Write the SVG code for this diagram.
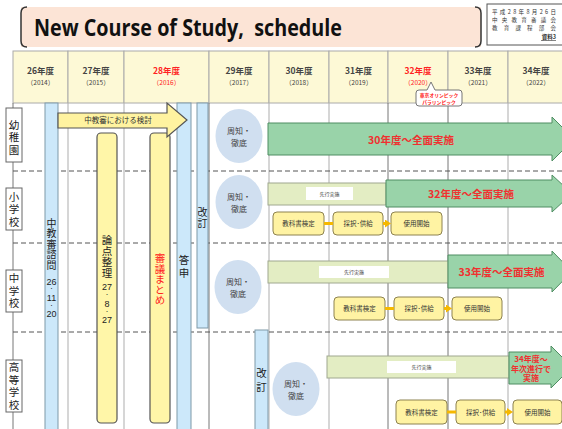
<svg xmlns="http://www.w3.org/2000/svg" width="562" height="429" viewBox="0 0 562 429">
<style>
text{font-family:"Noto Sans CJK JP","Noto Sans",sans-serif;fill:#333;text-anchor:middle}
.v{writing-mode:vertical-rl;text-anchor:start;font-size:10.5px;fill:#222}
.hdr{fill:#fdf9d6;stroke:#aaa;stroke-width:1}
.yr{font-size:8.5px;font-weight:bold;fill:#444}
.yp{font-size:6.5px;fill:#444}
.red{fill:#f22}
.grid{stroke:#bbb;stroke-width:1.2}
.gridd{stroke:#777;stroke-width:1}
.dash{stroke:#555;stroke-width:1;stroke-dasharray:5 3}
.lbl{fill:#fff;stroke:#666;stroke-width:1}
.blue{fill:#cce8fa;stroke:#7f99a8;stroke-width:1}
.ybar{fill:#fff6a8;stroke:#555;stroke-width:1.2}
.dg{font-family:"Liberation Sans",Arial,sans-serif;font-size:9px;fill:#222}
.dt{font-size:4px;fill:#222;font-weight:bold}
.ell{fill:#d0dff0}
.et{font-size:8px;fill:#444}
.green{fill:#99d3a9;stroke:#4f8d62;stroke-width:1}
.gt{font-size:10.5px;font-weight:bold;fill:#f03030}
.pre{fill:#e3edc3;stroke:#a0a890;stroke-width:1}
.wl{fill:#fff}
.pt{font-size:5px;fill:#333}
.ybox{fill:#fff3a3;stroke:#8d8250;stroke-width:1}
.bt{font-size:6.5px;fill:#333}
.conn{stroke:#f5b800;stroke-width:3;fill:none}
.tr{font-size:5.5px;fill:#333;text-anchor:start}
</style>
<defs>
<marker id="ah" viewBox="0 0 6 8" refX="0" refY="4" markerWidth="6" markerHeight="8" markerUnits="userSpaceOnUse" orient="auto"><path d="M0,0 L6,4 L0,8Z" fill="#f5b800"/></marker>
</defs>
<rect width="562" height="429" fill="#fff"/>

<g id="title">
<rect x="21" y="7" width="460" height="40" fill="#fce4d6"/>
<path d="M27,7 Q21,7 21,13 L21,41 Q21,47 27,47" fill="none" stroke="#333" stroke-width="1.5"/>
<path d="M475,7 Q481,7 481,13 L481,41 Q481,47 475,47" fill="none" stroke="#333" stroke-width="1.5"/>
<text x="34" y="36" style="font-family:'Open Sans','Liberation Sans',sans-serif;font-weight:bold;font-size:23px;text-anchor:start;fill:#111;white-space:pre" textLength="308" lengthAdjust="spacingAndGlyphs">New Course of Study,  schedule</text>
</g>

<g id="docinfo">
<rect x="487" y="4" width="80" height="41" fill="#fff" stroke="#555" stroke-width="1"/>
<text class="tr" x="492" y="14" textLength="64">平成28年8月26日</text>
<text class="tr" x="492" y="22" textLength="64">中央教育審議会</text>
<text class="tr" x="492" y="30" textLength="64">教育課程部会</text>
<text class="tr" x="556" y="39" style="text-anchor:end;font-weight:bold">資料3</text>
<line x1="541" y1="40.5" x2="556" y2="40.5" stroke="#333" stroke-width="0.6"/>
</g>

<g id="header">
<rect class="hdr" x="13" y="51" width="55" height="52"/>
<rect class="hdr" x="68" y="51" width="56" height="52"/>
<rect class="hdr" x="124" y="51" width="85" height="52"/>
<rect class="hdr" x="209" y="51" width="60" height="52"/>
<rect class="hdr" x="269" y="51" width="60" height="52"/>
<rect class="hdr" x="329" y="51" width="59" height="52"/>
<rect class="hdr" x="388" y="51" width="60" height="52"/>
<rect class="hdr" x="448" y="51" width="60" height="52"/>
<rect class="hdr" x="508" y="51" width="60" height="52"/>
<text class="yr" x="40.5" y="74">26年度</text><text class="yp" x="40.5" y="84.5">（2014）</text>
<text class="yr" x="96" y="74">27年度</text><text class="yp" x="96" y="84.5">（2015）</text>
<text class="yr red" x="166.5" y="74">28年度</text><text class="yp red" x="166.5" y="84.5">（2016）</text>
<text class="yr" x="239" y="74">29年度</text><text class="yp" x="239" y="84.5">（2017）</text>
<text class="yr" x="299" y="74">30年度</text><text class="yp" x="299" y="84.5">（2018）</text>
<text class="yr" x="358.5" y="74">31年度</text><text class="yp" x="358.5" y="84.5">（2019）</text>
<text class="yr red" x="418" y="74">32年度</text><text class="yp red" x="418" y="84.5">（2020）</text>
<text class="yr" x="478" y="74">33年度</text><text class="yp" x="478" y="84.5">（2021）</text>
<text class="yr" x="536" y="74">34年度</text><text class="yp" x="536" y="84.5">（2022）</text>
</g>

<g id="grid">
<line class="gridd" x1="13" y1="103" x2="13" y2="429"/>
<line class="grid" x1="68" y1="103" x2="68" y2="429"/>
<line class="grid" x1="124" y1="103" x2="124" y2="429"/>
<line class="gridd" x1="209" y1="103" x2="209" y2="429"/>
<line class="grid" x1="269" y1="103" x2="269" y2="429"/>
<line class="grid" x1="329" y1="103" x2="329" y2="429"/>
<line class="gridd" x1="388" y1="103" x2="388" y2="429"/>
<line class="gridd" x1="448" y1="103" x2="448" y2="429"/>
<line class="grid" x1="508" y1="103" x2="508" y2="429"/>
<line class="dash" x1="13" y1="171" x2="562" y2="171"/>
<line class="dash" x1="13" y1="243" x2="562" y2="243"/>
<line class="dash" x1="13" y1="332" x2="562" y2="332"/>
</g>

<g id="label-kindergarten">
<rect class="lbl" x="6" y="108" width="16" height="54"/>
<text class="v" x="14" y="119.5" style="letter-spacing:2px">幼稚園</text>
</g>
<g id="label-elementary">
<rect class="lbl" x="6" y="188" width="16" height="42"/>
<text class="v" x="14" y="191.5" style="letter-spacing:2px">小学校</text>
</g>
<g id="label-junior">
<rect class="lbl" x="6" y="270" width="16" height="42"/>
<text class="v" x="14" y="273" style="letter-spacing:2px">中学校</text>
</g>
<g id="label-high">
<rect class="lbl" x="6" y="360" width="16" height="52"/>
<text class="v" x="14" y="362" style="letter-spacing:2px">高等学校</text>
</g>

<g id="bar-inquiry">
<rect class="blue" x="45" y="103" width="13" height="330"/>
<text class="v" x="51.5" y="218" style="font-size:10px;letter-spacing:0.5px">中教審諮問</text>
<text class="dg" x="51.5" y="284.5">26</text><text class="dt" x="51.5" y="291.3">・</text><text class="dg" x="51.5" y="300.7">11</text><text class="dt" x="51.5" y="307.5">・</text><text class="dg" x="51.5" y="316.9">20</text>
</g>

<g id="bar-issues">
<rect class="ybar" x="97" y="133" width="20" height="290" rx="4"/>
<text class="v" x="107" y="235" style="letter-spacing:0.5px">論点整理</text>
<text class="dg" x="107" y="290">27</text><text class="dt" x="107" y="296.9">・</text><text class="dg" x="107" y="306.5">8</text><text class="dt" x="107" y="313.5">・</text><text class="dg" x="107" y="323">27</text>
</g>

<g id="bar-summary">
<rect class="ybar" x="150" y="133" width="20" height="290" rx="4"/>
<text class="v" x="160" y="253" style="fill:#f22">審議まとめ</text>
</g>

<g id="bar-report">
<rect class="blue" x="177" y="103" width="14" height="330"/>
<text class="v" x="184" y="255" style="letter-spacing:2.5px">答申</text>
</g>

<g id="bar-revision">
<rect class="blue" x="197" y="103" width="11" height="225"/>
<text class="v" x="202.5" y="207" style="font-size:10px;letter-spacing:1px">改訂</text>
</g>

<g id="bar-revision-high">
<rect class="blue" x="255" y="330" width="13" height="103"/>
<text class="v" x="261.5" y="368" style="letter-spacing:3.5px">改訂</text>
</g>

<g id="arrow-deliberation">
<polygon points="58,113 167,113 167,103 187,120 167,137 167,128 58,128" fill="#fff3a0" stroke="#555" stroke-width="1.2"/>
<text x="118" y="123" style="font-size:7.5px;fill:#333">中教審における検討</text>
</g>

<g id="olympics">
<path d="M419,90 L427,90 L431,82 L435,90 L459,90 Q462,90 462,93 L462,103 Q462,106 459,106 L419,106 Q416,106 416,103 L416,93 Q416,90 419,90 Z" fill="#fff" stroke="#777" stroke-width="1"/>
<text style="font-size:4.8px;font-weight:bold;fill:#f22"><tspan x="439" y="97">東京オリンピック</tspan><tspan x="439" y="103.5">パラリンピック</tspan></text>
</g>

<g id="kindergarten">
<ellipse class="ell" cx="239" cy="136" rx="23.5" ry="27"/>
<text class="et"><tspan x="239" y="134">周知・</tspan><tspan x="239" y="146">徹底</tspan></text>
<polygon class="green" points="268,123 552,123 552,117 574,139 552,161 552,155 268,155"/>
<text class="gt" x="411" y="143.5">30年度～全面実施</text>
</g>

<g id="elementary">
<ellipse class="ell" cx="239" cy="202" rx="23.5" ry="27"/>
<text class="et"><tspan x="239" y="200">周知・</tspan><tspan x="239" y="212">徹底</tspan></text>
<rect class="pre" x="268" y="183" width="118" height="22"/>
<rect class="wl" x="306" y="187" width="47" height="13"/>
<text class="pt" x="329.5" y="195.5">先行実施</text>
<polygon class="green" points="386,180 552,180 552,175 572,193.5 552,212 552,207 386,207"/>
<text class="gt" x="471" y="197.5">32年度～全面実施</text>
<rect class="ybox" x="273" y="212" width="51" height="23" rx="4"/>
<text class="bt" x="298.5" y="226">教科書検定</text>
<rect class="ybox" x="333" y="212" width="50" height="23" rx="4"/>
<text class="bt" x="358" y="226">採択･供給</text>
<rect class="ybox" x="391" y="212" width="51" height="23" rx="4"/>
<text class="bt" x="416.5" y="226">使用開始</text>
</g>

<g id="junior">
<ellipse class="ell" cx="238" cy="287" rx="23.5" ry="27"/>
<text class="et"><tspan x="238" y="285">周知・</tspan><tspan x="238" y="297">徹底</tspan></text>
<rect class="pre" x="268" y="261" width="180" height="22"/>
<rect class="wl" x="319" y="266" width="70" height="12"/>
<text class="pt" x="354" y="274">先行実施</text>
<polygon class="green" points="448,255 552,255 552,251 572,271.5 552,292 552,288 448,288"/>
<text class="gt" x="501.5" y="275.5">33年度～全面実施</text>
<rect class="ybox" x="334" y="297" width="51" height="23" rx="4"/>
<text class="bt" x="359.5" y="311">教科書検定</text>
<rect class="ybox" x="394" y="297" width="50" height="23" rx="4"/>
<text class="bt" x="419" y="311">採択･供給</text>
<rect class="ybox" x="452" y="297" width="50" height="23" rx="4"/>
<text class="bt" x="477" y="311">使用開始</text>
</g>

<g id="high">
<ellipse class="ell" cx="296" cy="389" rx="23.5" ry="27"/>
<text class="et"><tspan x="296" y="387">周知・</tspan><tspan x="296" y="399">徹底</tspan></text>
<rect class="pre" x="327" y="356" width="182" height="22"/>
<rect class="wl" x="387" y="361" width="69" height="12"/>
<text class="pt" x="421.5" y="369">先行実施</text>
<polygon class="green" points="509,352 551,352 551,346 572,367 551,388 551,384 509,384"/>
<text class="gt" style="font-size:8px"><tspan x="531" y="362">34年度～</tspan><tspan x="531" y="371.5">年次進行で</tspan><tspan x="531" y="381">実施</tspan></text>
<rect class="ybox" x="396" y="400" width="51" height="24" rx="4"/>
<text class="bt" x="421.5" y="414.5">教科書検定</text>
<rect class="ybox" x="456" y="400" width="49" height="24" rx="4"/>
<text class="bt" x="480.5" y="414.5">採択･供給</text>
<rect class="ybox" x="513" y="400" width="49" height="24" rx="4"/>
<text class="bt" x="537.5" y="414.5">使用開始</text>
</g>

<g id="connectors">
<line class="conn" x1="324" y1="223.5" x2="333" y2="223.5"/>
<line class="conn" x1="383" y1="223.5" x2="385" y2="223.5" marker-end="url(#ah)"/>
<line class="conn" x1="385" y1="308.5" x2="394" y2="308.5"/>
<line class="conn" x1="444" y1="308.5" x2="446" y2="308.5" marker-end="url(#ah)"/>
<line class="conn" x1="447" y1="412" x2="456" y2="412"/>
<line class="conn" x1="505" y1="412" x2="507" y2="412" marker-end="url(#ah)"/>
</g>
</svg>
